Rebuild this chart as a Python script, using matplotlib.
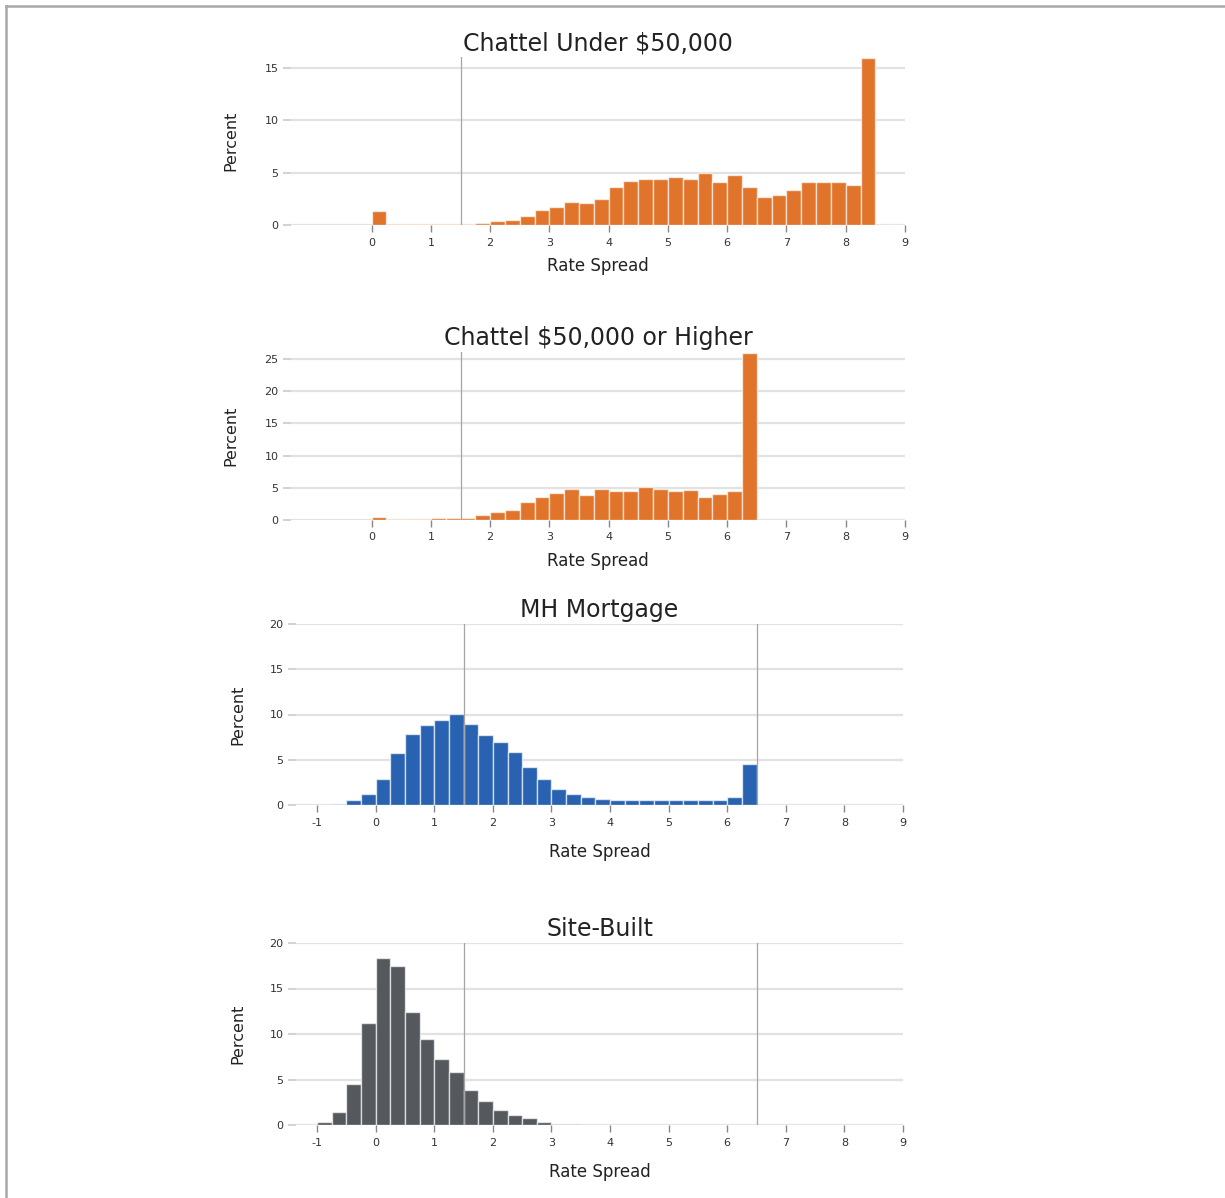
import numpy as np
import matplotlib.pyplot as plt
from matplotlib.lines import Line2D

plt.rcParams['axes.unicode_minus'] = False

# Histogram bins are 0.25 wide; each panel lists percent per bin from its first edge
bin_width = 0.25

titles = ["Chattel Under $50,000", "Chattel $50,000 or Higher", "MH Mortgage", "Site-Built"]
first_edge = [0.0, 0.0, -1.0, -1.0]

chattel_under = [1.3, 0.05, 0.05, 0.05, 0.05, 0.1, 0.1, 0.2, 0.35, 0.5, 0.85, 1.45,
                 1.7, 2.2, 2.1, 2.45, 3.6, 4.2, 4.4, 4.4, 4.6, 4.4, 5.0, 4.1,
                 4.75, 3.6, 2.7, 2.9, 3.3, 4.1, 4.1, 4.1, 3.85, 16.0, 0.05, 0.0]

chattel_over = [0.4, 0.15, 0.15, 0.2, 0.35, 0.35, 0.35, 0.75, 1.2, 1.6, 2.8, 3.6,
                4.15, 4.8, 3.95, 4.8, 4.45, 4.45, 5.2, 4.8, 4.5, 4.65, 3.6, 4.0,
                4.45, 26.0, 0.05, 0.02, 0.02, 0.02, 0.02, 0.02, 0.02, 0.02, 0.02, 0.02]

mh_mortgage = [0.0, 0.1, 0.6, 1.25, 2.9, 5.8, 7.85, 8.8, 9.35, 10.05, 8.95, 7.75,
               6.95, 5.85, 4.25, 2.85, 1.75, 1.25, 0.9, 0.7, 0.6, 0.5, 0.5, 0.5,
               0.55, 0.6, 0.5, 0.6, 0.9, 4.5, 0.03, 0.02, 0.01, 0.01, 0.01, 0.01,
               0.01, 0.01, 0.01, 0.01]

site_built = [0.28, 1.4, 4.5, 11.25, 18.3, 17.45, 12.45, 9.5, 7.25, 5.85, 3.85, 2.65,
              1.7, 1.15, 0.72, 0.35, 0.15, 0.08, 0.05, 0.04, 0.03, 0.03, 0.02, 0.02,
              0.02, 0.01, 0.01, 0.01, 0.01, 0.01, 0.01, 0.01, 0.01, 0.01, 0.01, 0.01,
              0.01, 0.01, 0.01, 0.01]

series = [chattel_under, chattel_over, mh_mortgage, site_built]
colors = ["#e0742a", "#e0742a", "#2962b0", "#55585d"]
xticks = [list(range(0, 10)), list(range(0, 10)), list(range(-1, 10)), list(range(-1, 10))]
yticks = [[0, 5, 10, 15], [0, 5, 10, 15, 20, 25], [0, 5, 10, 15, 20], [0, 5, 10, 15, 20]]
ref_lines = [[1.5], [1.5], [1.5, 6.5], [1.5, 6.5]]

W, H = 1225, 1198
# axes boxes in pixels: left, right, top, bottom
boxes = [(291, 905, 57, 225), (291, 905, 352, 520), (296, 903, 624, 805), (296, 903, 943, 1125)]

fig = plt.figure(figsize=(W / 100, H / 100), dpi=100)

for i in range(4):
    l, r, t, b = boxes[i]
    ax = fig.add_axes([l / W, 1 - b / H, (r - l) / W, (b - t) / H])
    vals = series[i]
    edges = first_edge[i] + bin_width * np.arange(len(vals))
    ax.bar(edges, vals, width=bin_width, align='edge', color=colors[i],
           edgecolor=(1, 1, 1, 0.65), linewidth=1, zorder=2)
    for xv in ref_lines[i]:
        ax.axvline(xv, color='#a5a5a5', lw=0.9, zorder=3)

    ax.set_xlim(-1.36, 9)
    if i < 2:
        ax.set_ylim(0, max(vals) * 1.004)
    else:
        ax.set_ylim(0, 20)
    ax.set_xticks(xticks[i])
    ax.set_yticks(yticks[i])

    ax.yaxis.grid(True, color='#e2e2e2', lw=1.6, zorder=0)
    ax.set_axisbelow(True)
    for s in ax.spines.values():
        s.set_visible(False)
    ax.tick_params(axis='y', length=6, width=1.5, color='#d3d3d3', labelsize=8,
                   labelcolor='#333333', pad=3)
    ax.tick_params(axis='x', length=5, width=1, color='#888888', labelsize=8,
                   labelcolor='#333333', pad=4)

    ax.set_title(titles[i], fontsize=17, color='#222222', pad=5)
    ax.set_xlabel("Rate Spread", fontsize=12, color='#222222',
                  labelpad=7 if i < 2 else 11)
    ax.set_ylabel("Percent", fontsize=11.5, color='#222222',
                  labelpad=19 if i < 2 else 17)

# thin grey frame on top and left edges
fig.add_artist(Line2D([6 / W, 1], [1 - 6 / H, 1 - 6 / H], color='#a8a8a8', lw=1.8,
                      transform=fig.transFigure))
fig.add_artist(Line2D([6 / W, 6 / W], [0, 1 - 6 / H], color='#a8a8a8', lw=1.8,
                      transform=fig.transFigure))

fig.savefig("out.png", dpi=100)
